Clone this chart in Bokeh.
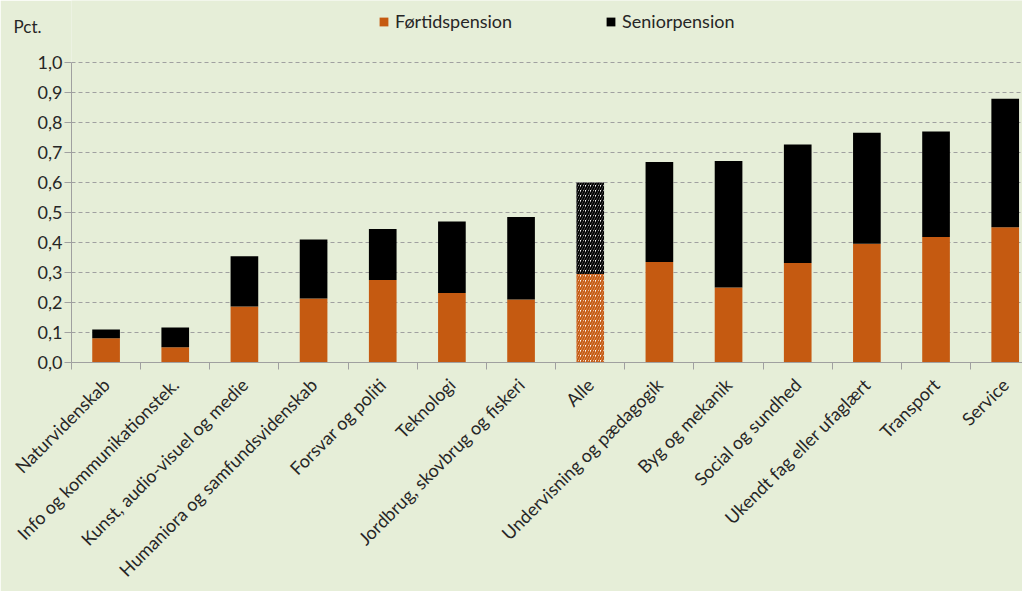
import numpy as np
from bokeh.plotting import figure
from bokeh.models import (ColumnDataSource, Range1d, FixedTicker, Legend, LegendItem, LinearAxis)
from bokeh.embed import file_html
from bokeh.resources import INLINE

categories = ["Naturvidenskab", "Info og kommunikationstek.", "Kunst, audio-visuel og medie",
              "Humaniora og samfundsvidenskab", "Forsvar og politi", "Teknologi",
              "Jordbrug, skovbrug og fiskeri", "Alle", "Undervisning og pædagogik",
              "Byg og mekanik", "Social og sundhed", "Ukendt fag eller ufaglært",
              "Transport", "Service"]
fortidspension = [0.081, 0.051, 0.187, 0.213, 0.275, 0.232, 0.210, 0.295, 0.335,
                  0.250, 0.332, 0.396, 0.418, 0.451]
seniorpension = [0.029, 0.066, 0.167, 0.197, 0.170, 0.238, 0.275, 0.305, 0.333,
                 0.422, 0.395, 0.370, 0.352, 0.428]
y_ticks = [0.0, 0.1, 0.2, 0.3, 0.4, 0.5, 0.6, 0.7, 0.8, 0.9, 1.0]
y_tick_labels = ["0,0", "0,1", "0,2", "0,3", "0,4", "0,5", "0,6", "0,7", "0,8", "0,9", "1,0"]
unit_label = "Pct."
highlight = "Alle"

ORANGE = "#c55a11"
BG = "#e6eed8"
TXT = "#262626"
AXC = "#a0a0a0"

# geometry (pixels): value 0 at y=362, value 1 at y=62 -> frame top at canvas top
PX_PER_UNIT = 300.0
y_top = 1.0 + 62 / PX_PER_UNIT
pct_pos = (362 - 26) / PX_PER_UNIT

n = len(categories)
xs = list(range(n))
fort = np.array(fortidspension)
total = fort + np.array(seniorpension)
is_hl = [c == highlight for c in categories]

src = ColumnDataSource(dict(
    x=xs, bottom0=[0.0] * n, fort=list(fort), total=list(total),
    fill_o=["white" if h else ORANGE for h in is_hl],
    fill_s=["white" if h else "black" for h in is_hl],
    hatch=["/" if h else " " for h in is_hl],
))

p = figure(width=1022, height=591, output_backend="svg", toolbar_location=None,
           x_range=Range1d(-0.5, n - 0.75), y_range=Range1d(0, y_top),
           min_border_left=71, min_border_right=0, min_border_top=0, min_border_bottom=229)
p.background_fill_color = BG
p.border_fill_color = BG
p.outline_line_color = None

r1 = p.vbar(x="x", bottom="bottom0", top="fort", width=0.4, source=src,
            fill_color="fill_o", line_color=None, hatch_pattern="hatch",
            hatch_color=ORANGE, hatch_scale=5, hatch_weight=2)
r2 = p.vbar(x="x", bottom="fort", top="total", width=0.4, source=src,
            fill_color="fill_s", line_color=None, hatch_pattern="hatch",
            hatch_color="black", hatch_scale=5, hatch_weight=2)

# grid
p.xgrid.grid_line_color = None
p.ygrid.grid_line_color = AXC
p.ygrid.grid_line_dash = "4 3"
p.ygrid.grid_line_width = 1

# y axis
p.yaxis.ticker = FixedTicker(ticks=y_ticks)
p.yaxis.bounds = (0, 1.0)
p.yaxis.major_label_overrides = {t: l for t, l in zip(y_ticks, y_tick_labels)}
p.yaxis.minor_tick_line_color = None
p.yaxis.major_tick_in = 0
p.yaxis.major_tick_out = 7
p.yaxis.axis_line_color = AXC
p.yaxis.major_tick_line_color = AXC
p.yaxis.major_label_text_font = "Lato"
p.yaxis.major_label_text_font_size = "18px"
p.yaxis.major_label_text_color = TXT
p.yaxis.major_label_standoff = 2

# unit label as an extra axis label
ax2 = LinearAxis(ticker=FixedTicker(ticks=[pct_pos]),
                 major_label_overrides={pct_pos: unit_label},
                 axis_line_color=None, major_tick_line_color=None,
                 minor_tick_line_color=None, major_tick_in=0, major_tick_out=0,
                 major_label_text_font="Lato", major_label_text_font_size="17px",
                 major_label_text_color=TXT, major_label_standoff=-7)
p.add_layout(ax2, "left")

# x axis
boundaries = list(np.arange(n + 1) - 0.5)
p.xaxis.ticker = FixedTicker(ticks=xs, minor_ticks=boundaries)
p.xaxis.major_label_overrides = {i: c for i, c in enumerate(categories)}
p.xaxis.major_tick_line_color = None
p.xaxis.major_tick_in = 0
p.xaxis.major_tick_out = 0
p.xaxis.minor_tick_in = 0
p.xaxis.minor_tick_out = 7
p.xaxis.minor_tick_line_color = AXC
p.xaxis.axis_line_color = AXC
p.xaxis.major_label_orientation = np.pi / 4
p.xaxis.major_label_text_font = "Lato"
p.xaxis.major_label_text_font_size = "18px"
p.xaxis.major_label_text_color = TXT
p.xaxis.major_label_standoff = 12

legend = Legend(items=[LegendItem(label="Førtidspension", renderers=[r1]),
                       LegendItem(label="Seniorpension", renderers=[r2])],
                location=(307, 330), orientation="horizontal",
                glyph_width=11, glyph_height=11, label_standoff=6, spacing=93,
                padding=0, margin=0, background_fill_alpha=0, border_line_color=None,
                label_text_font="Lato", label_text_font_size="18px",
                label_text_color=TXT)
p.add_layout(legend, "center")

open("out.html", "w").write(file_html(p, INLINE))
